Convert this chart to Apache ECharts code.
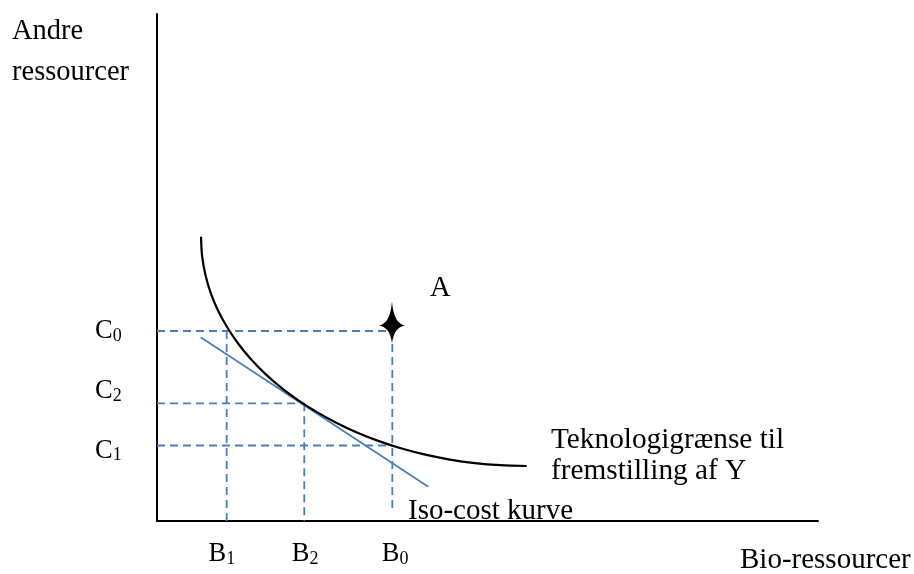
<!DOCTYPE html>
<html>
<head>
<meta charset="utf-8">
<script src="https://cdn.jsdelivr.net/npm/echarts@6/dist/echarts.min.js"></script>
<style>
  html, body { margin: 0; padding: 0; background: #fff; }
  #chart { width: 914px; height: 574px; }
</style>
</head>
<body>
<div id="chart"></div>
<script>
// technology frontier (isoquant)
const curveX = [6.66, 6.82, 7.32, 8.12, 9.23, 10.62, 12.27, 14.19, 16.34, 18.73, 21.33,
  24.13, 27.11, 30.24, 33.57, 37.02, 40.61, 44.30, 48.09, 51.98, 55.93]
const curveY = [56.07, 52.27, 48.58, 44.99, 41.52, 38.21, 35.01, 31.95, 29.07, 26.37, 23.85,
  21.52, 19.39, 17.46, 15.76, 14.30, 13.08, 12.11, 11.42, 11.01, 10.85]

// iso-cost line
const isoX = [6.61, 41.04]
const isoY = [36.23, 6.77]

// B and C levels with their subscripts
const bValues = [10.54, 22.28, 35.6]
const bSubs = ['1', '2', '0']
const cValues = [37.48, 23.21, 14.89]
const cSubs = ['0', '2', '1']

// point A
const pointA = [35.55, 38.56]

// dashed guides: [c index, b index it runs to] and [b index, c index it runs to]
const hLines = [[0, 2], [1, 1], [2, 2]]
const vLines = [[0, 0], [1, 1], [2, 0]]
const vBottom = [0, 0, 1.78]

const blue = '#4A7EBB'
const serif = '"Liberation Serif", "Times New Roman", serif'

const chart = echarts.init(document.getElementById('chart'))

const dashed = []
hLines.forEach(([ci, bi]) => {
  dashed.push({
    type: 'line',
    data: [[0, cValues[ci]], [bValues[bi], cValues[ci]]],
    symbol: 'none',
    silent: true,
    z: 2,
    lineStyle: { color: blue, width: 1.8, type: [8, 5] }
  })
})
vLines.forEach(([bi, ci], i) => {
  dashed.push({
    type: 'line',
    data: [[bValues[bi], cValues[ci]], [bValues[bi], vBottom[i]]],
    symbol: 'none',
    silent: true,
    z: 2,
    lineStyle: { color: blue, width: 1.8, type: [8, 5] }
  })
})

const subRich = {
  m: { font: '26.5px ' + serif, fill: '#000', lineHeight: 30, verticalAlign: 'bottom' },
  s: { font: '18px ' + serif, fill: '#000', lineHeight: 20, verticalAlign: 'bottom' }
}

function label(text, x, y, size) {
  return {
    type: 'text',
    left: x,
    top: y,
    style: { text: text, font: size + 'px ' + serif, fill: '#000' }
  }
}

function subLabel(main, sub, x, y) {
  return {
    type: 'text',
    left: x,
    top: y,
    style: { text: '{m|' + main + '}{s|' + sub + '}', rich: subRich, font: '26.5px ' + serif }
  }
}

const bX = [208.5, 291.7, 381.7]
const cY = [318, 378, 437.5]

const options = {
  animation: false,
  grid: { left: 157, top: 14, right: 96, bottom: 53 },
  xAxis: {
    type: 'value',
    min: 0,
    max: 100,
    axisLine: { show: true, lineStyle: { color: '#000', width: 2 } },
    axisTick: { show: false },
    axisLabel: { show: false },
    splitLine: { show: false }
  },
  yAxis: {
    type: 'value',
    min: 0,
    max: 100,
    axisLine: { show: true, lineStyle: { color: '#000', width: 2 } },
    axisTick: { show: false },
    axisLabel: { show: false },
    splitLine: { show: false }
  },
  series: [
    ...dashed,
    {
      type: 'line',
      data: isoX.map((x, i) => [x, isoY[i]]),
      symbol: 'none',
      silent: true,
      z: 3,
      lineStyle: { color: blue, width: 1.8 }
    },
    {
      type: 'line',
      data: curveX.map((x, i) => [x, curveY[i]]),
      symbol: 'none',
      smooth: 0.3,
      silent: true,
      z: 4,
      lineStyle: { color: '#000', width: 2.2 }
    },
    {
      type: 'scatter',
      data: [pointA],
      symbol: 'path://M0,-24 Q1.8,-1.8 13,0 Q1.8,1.8 0,18 Q-1.8,1.8 -13,0 Q-1.8,-1.8 0,-24 Z',
      symbolSize: [26, 42],
      symbolOffset: [0, -3],
      silent: true,
      z: 5,
      itemStyle: { color: '#000', opacity: 1 }
    }
  ],
  graphic: [
    label('Andre', 12, 17, 28.5),
    label('ressourcer', 12, 58, 28.5),
    label('A', 430, 274, 28.5),
    label('Teknologigrænse til', 551, 426, 29.3),
    label('fremstilling af Y', 551, 457, 29.3),
    label('Iso-cost kurve', 408, 497, 29),
    label('Bio-ressourcer', 740, 546, 29),
    ...bSubs.map((s, i) => subLabel('B', s, bX[i], 541)),
    ...cSubs.map((s, i) => subLabel('C', s, 95, cY[i]))
  ]
}

chart.setOption(options)
</script>
</body>
</html>
